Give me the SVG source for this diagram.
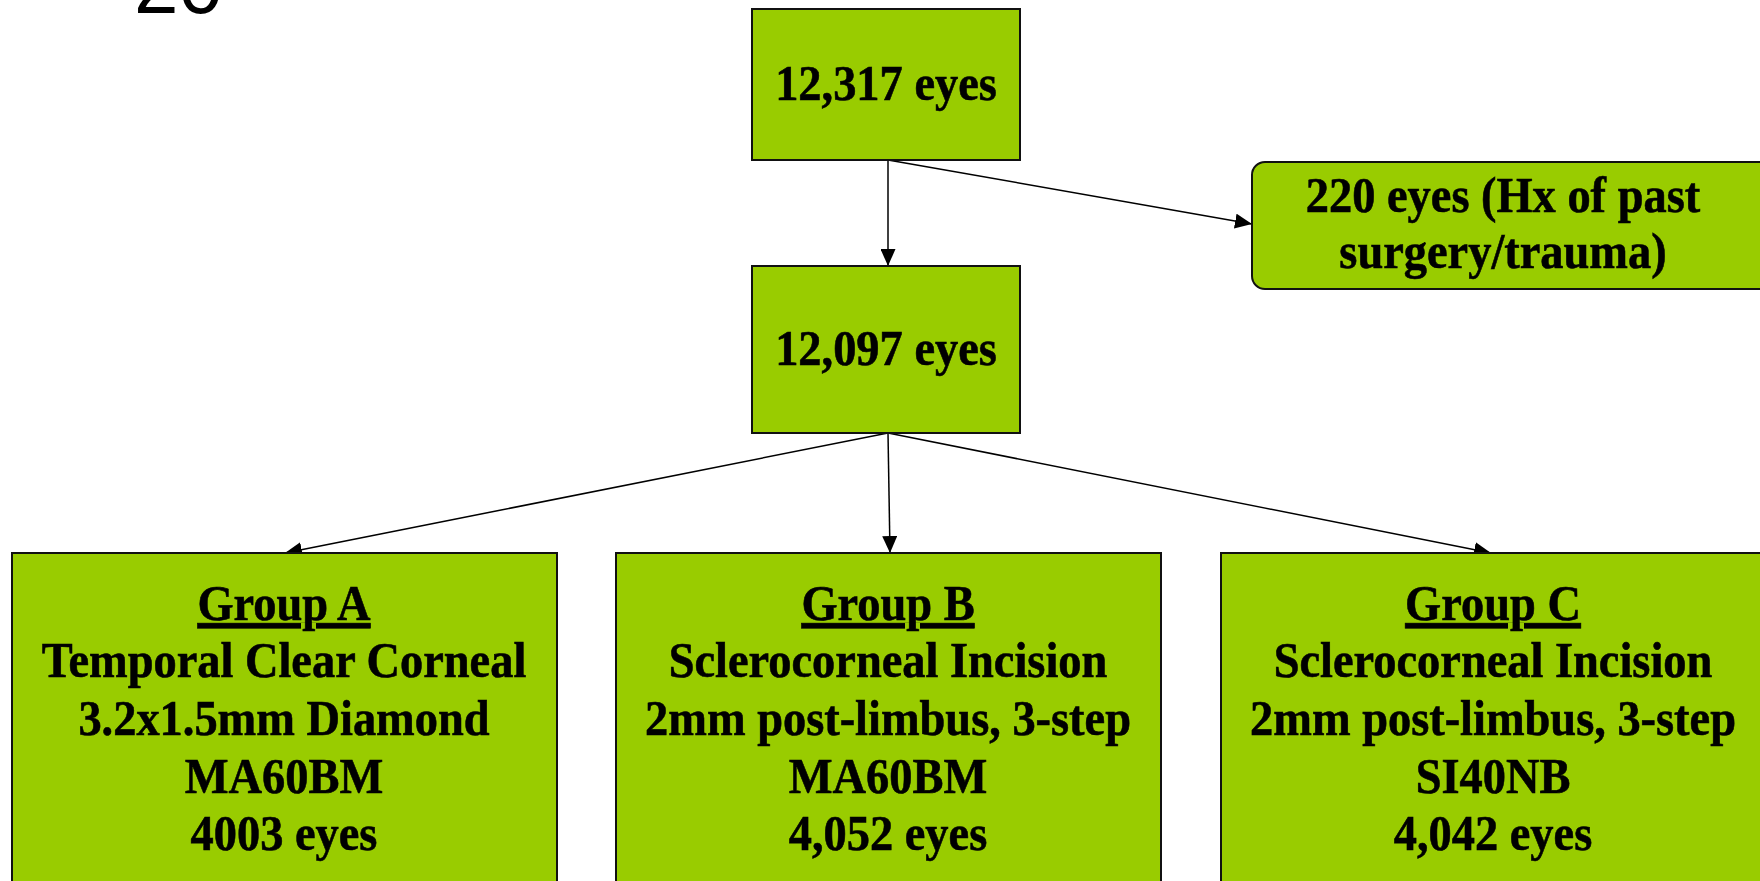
<svg xmlns="http://www.w3.org/2000/svg" width="1760" height="881" viewBox="0 0 1760 881">
  <style>
    .box { fill: #99cc00; stroke: #111; stroke-width: 2; }
    .lbl { font-family: "Liberation Serif", "Times New Roman", serif; font-weight: bold; font-size: 51px; fill: #000; stroke: #000; stroke-width: 0.6; text-anchor: middle; }
    .edge { stroke: #000; stroke-width: 1.5; fill: none; marker-end: url(#arrow); }
    .num { font-family: "Liberation Sans", Arial, sans-serif; font-size: 80px; fill: #000; }
  </style>
  <defs>
    <marker id="arrow" viewBox="0 0 17 15" refX="17" refY="7.5" markerWidth="17" markerHeight="15" markerUnits="userSpaceOnUse" orient="auto">
      <path d="M0,0 L17,7.5 L0,15 Z" fill="#000"/>
    </marker>
  </defs>
  <rect width="1760" height="881" fill="#fff"/>

  <!-- slide number, mostly above the page edge -->
  <text class="num" x="134" y="13">20</text>

  <g id="connectors">
    <line class="edge" x1="888" y1="160" x2="888" y2="266"/>
    <line class="edge" x1="888" y1="160" x2="1252" y2="224"/>
    <line class="edge" x1="888" y1="433" x2="285" y2="553"/>
    <line class="edge" x1="888" y1="433" x2="890" y2="553"/>
    <line class="edge" x1="888" y1="433" x2="1491" y2="553"/>
  </g>

  <!-- labels are set in a slightly condensed serif: each label block is squeezed horizontally about its centre -->
  <g id="total">
    <rect class="box" x="752" y="9" width="268" height="151"/>
    <g transform="translate(886 0) scale(0.91 1)">
      <text class="lbl" x="0" y="100">12,317 eyes</text>
    </g>
  </g>

  <g id="excluded">
    <rect class="box" x="1252" y="162" width="520" height="127" rx="13" ry="13"/>
    <g transform="translate(1503 0) scale(0.91 1)">
      <text class="lbl" x="0" y="212">220 eyes (Hx of past</text>
      <text class="lbl" x="0" y="268">surgery/trauma)</text>
    </g>
  </g>

  <g id="included">
    <rect class="box" x="752" y="266" width="268" height="167"/>
    <g transform="translate(886 0) scale(0.91 1)">
      <text class="lbl" x="0" y="365">12,097 eyes</text>
    </g>
  </g>

  <g id="group-a">
    <rect class="box" x="12" y="553" width="545" height="360"/>
    <g transform="translate(284 0) scale(0.91 1)">
      <text class="lbl" x="0" y="620" text-decoration="underline">Group A</text>
      <text class="lbl" x="0" y="677">Temporal Clear Corneal</text>
      <text class="lbl" x="0" y="735">3.2x1.5mm Diamond</text>
      <text class="lbl" x="0" y="793">MA60BM</text>
      <text class="lbl" x="0" y="850">4003 eyes</text>
    </g>
  </g>

  <g id="group-b">
    <rect class="box" x="616" y="553" width="545" height="360"/>
    <g transform="translate(888 0) scale(0.91 1)">
      <text class="lbl" x="0" y="620" text-decoration="underline">Group B</text>
      <text class="lbl" x="0" y="677">Sclerocorneal Incision</text>
      <text class="lbl" x="0" y="735">2mm post-limbus, 3-step</text>
      <text class="lbl" x="0" y="793">MA60BM</text>
      <text class="lbl" x="0" y="850">4,052 eyes</text>
    </g>
  </g>

  <g id="group-c">
    <rect class="box" x="1221" y="553" width="545" height="360"/>
    <g transform="translate(1493 0) scale(0.91 1)">
      <text class="lbl" x="0" y="620" text-decoration="underline">Group C</text>
      <text class="lbl" x="0" y="677">Sclerocorneal Incision</text>
      <text class="lbl" x="0" y="735">2mm post-limbus, 3-step</text>
      <text class="lbl" x="0" y="793">SI40NB</text>
      <text class="lbl" x="0" y="850">4,042 eyes</text>
    </g>
  </g>
</svg>
